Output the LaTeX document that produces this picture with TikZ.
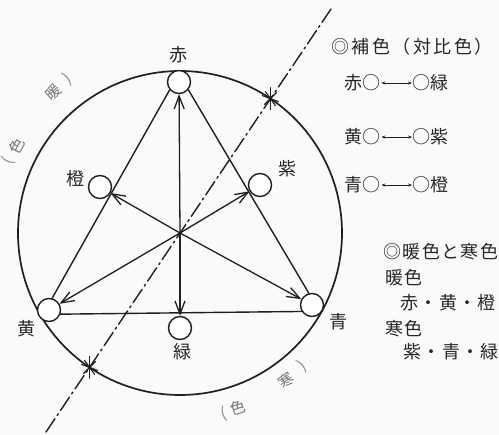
\documentclass[tikz,border=0pt]{standalone}
\usepackage{fontspec}
\newfontfamily\jp{Noto Sans CJK JP}
\newfontfamily\jpw[LetterSpace=8]{Noto Sans CJK JP}
\newfontfamily\jph[LetterSpace=14]{Noto Sans CJK JP}
\usetikzlibrary{arrows.meta}
\begin{document}
\begin{tikzpicture}[x=1pt,y=-1pt,
  line cap=round,
  dot/.style={circle,draw=black!88,line width=1.4pt,fill=white,minimum size=23pt,inner sep=0pt},
  lab/.style={font=\jp\fontsize{18}{18}\selectfont,text=black!85,inner sep=0pt},
  arclab/.style={font=\jp\fontsize{15}{15}\selectfont,text=black!55,inner sep=0pt},
  brk/.style={font=\jp\fontsize{16}{16}\selectfont,text=black!45,inner sep=0pt},
  txt/.style={font=\jpw\fontsize{18}{18}\selectfont,text=black!85,inner sep=0pt,anchor=west},
  head/.style={font=\jph\fontsize{18}{18}\selectfont,text=black!85,inner sep=0pt,anchor=west},
  row/.style={font=\jp\fontsize{18}{18}\selectfont,text=black!85,inner sep=0.5pt,anchor=west},
  arr/.style={draw=black!88,line width=1.3pt,-{Straight Barb[length=13pt,width=10pt,line width=1.3pt]}},
  tri/.style={draw=black!88,line width=1.4pt},
  mini/.style={draw=black!88,line width=0.7pt,{Stealth[length=4pt,width=3pt]}-{Stealth[length=4pt,width=3pt]}},
  axisline/.style={draw=black!88,line width=1.4pt,dash pattern=on 16pt off 4pt on 2pt off 4pt},
  starline/.style={draw=black!88,line width=1.1pt},
]
\path[fill=black!2] (0,0) rectangle (499,435);
\useasboundingbox (0,0) rectangle (499,435);

\coordinate (c) at (180,233);
\draw[draw=black!88,line width=1.7pt] (c) circle[radius=162];

% dash-dot axis
\coordinate (p1) at (46,432);
\coordinate (p2) at (331,9);
\draw[axisline] (p1) -- (p2);

% star marks
\coordinate (s1) at (270.4,98.6);
\coordinate (s2) at (89.6,367.4);
\foreach \s in {s1,s2}{
  \draw[starline] (\s) ++(0,-11) -- ++(0,22);
  \draw[starline] (\s) ++(-8,-3) -- ++(16,6);
  \draw[starline] (\s) ++(-6,6) -- ++(12,-12);
  \draw[starline] (\s) ++(-5,-7) -- ++(10,14);
}

% colour circles
\node[dot] (aka) at (179,82) {};
\node[dot] (dai) at (100,187) {};
\node[dot] (mur) at (260,185) {};
\node[dot] (ki)  at (49,310) {};
\node[dot] (ao)  at (312,305) {};
\node[dot] (mid) at (180,328) {};

% triangle
\draw[tri] (aka.220) -- (ki.75);
\draw[tri] (aka.-40) -- (ao.105);
\draw[tri] (ki.-20) -- (ao.-148);

% arrows from centre
\foreach \n in {aka,dai,mur,ki,ao,mid} \draw[arr] (c) -- (\n);
\fill[black!88] (c) circle[radius=1.6];

% circle labels
\node[lab] (laka) at (178,55) {赤};
\node[lab] (ldai) at (75,179) {橙};
\node[lab] (lmur) at (287,169) {紫};
\node[lab] (lki)  at (26,329) {黄};
\node[lab] (lao)  at (338,322) {青};
\node[lab] (lmid) at (182,352) {緑};

% arc labels
\node[arclab,rotate=42] (dan) at (53,92) {暖};
\node[arclab,rotate=62] (dshoku) at (17,146) {色};
\node[brk,rotate=38] (db2) at (68,79) {)};
\node[brk,rotate=66] (db1) at (8,161) {(};
\node[arclab,rotate=36] (kan) at (286,380) {寒};
\node[arclab,rotate=17] (kshoku) at (238,408) {色};
\node[brk,rotate=40] (kb2) at (302,366) {)};
\node[brk,rotate=15] (kb1) at (224,414) {(};

% right side text
\node[head] (h1) at (331,47) {◎補色（対比色）};
\node[row] (r1a) at (344,83) {赤○};
\node[row] (r1b) at (412,83) {○緑};
\draw[mini] (r1a) -- (r1b);
\node[row] (r2a) at (344,137) {黄○};
\node[row] (r2b) at (412,137) {○紫};
\draw[mini] (r2a) -- (r2b);
\node[row] (r3a) at (344,185) {青○};
\node[row] (r3b) at (412,185) {○橙};
\draw[mini] (r3a) -- (r3b);

\node[txt] (h2) at (383,252) {◎暖色と寒色};
\node[txt] (w1) at (385,278) {暖色};
\node[txt] (w2) at (400,303) {赤・黄・橙};
\node[txt] (k1) at (385,329) {寒色};
\node[txt] (k2) at (403,352) {紫・青・緑};
\end{tikzpicture}
\end{document}
